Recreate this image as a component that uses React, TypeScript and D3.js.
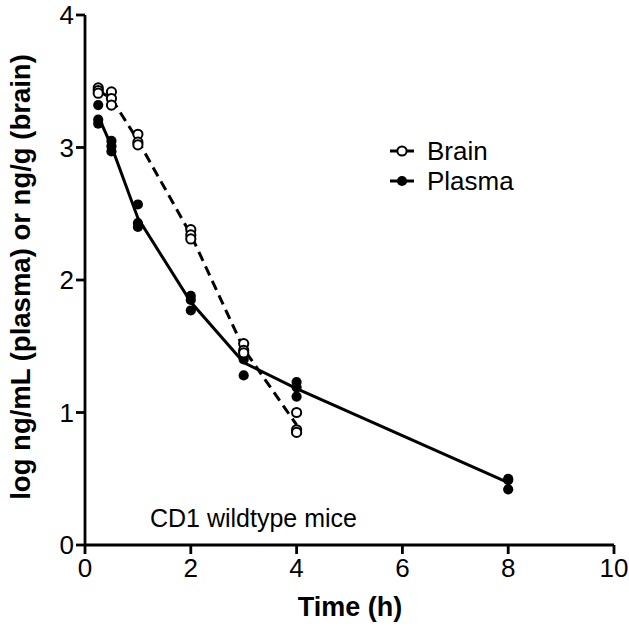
import React from "react";
import * as d3 from "d3";

const brainTimes = [0.25, 0.5, 1, 2, 3, 4];
const brainValues = [
  [3.45, 3.43, 3.41],
  [3.42, 3.37, 3.32],
  [3.1, 3.04, 3.02],
  [2.38, 2.34, 2.31],
  [1.52, 1.47, 1.45],
  [1.0, 0.87, 0.85],
];
const plasmaTimes = [0.25, 0.5, 1, 2, 3, 4, 8];
const plasmaValues = [
  [3.32, 3.21, 3.18],
  [3.05, 3.01, 2.97],
  [2.57, 2.43, 2.4],
  [1.88, 1.85, 1.77],
  [1.45, 1.4, 1.28],
  [1.23, 1.19, 1.12],
  [0.5, 0.49, 0.42],
];
const xTicks = [0, 2, 4, 6, 8, 10];
const yTicks = [0, 1, 2, 3, 4];

const W = 629;
const H = 626;
const FONT = "'Liberation Sans', Arial, Helvetica, sans-serif";

export default function App() {
  const x = d3.scaleLinear().domain([0, 10]).range([85, 614]);
  const y = d3.scaleLinear().domain([0, 4]).range([545, 15]);
  const line = d3
    .line<[number, number]>()
    .x((d) => x(d[0]))
    .y((d) => y(d[1]));
  const brainMean: [number, number][] = brainTimes.map((t, i) => [t, d3.mean(brainValues[i]) as number]);
  const plasmaMean: [number, number][] = plasmaTimes.map((t, i) => [t, d3.mean(plasmaValues[i]) as number]);
  const r = 4.6;

  return (
    <svg
      width={W}
      height={H}
      style={{ position: "absolute", left: 0, top: 0, background: "#fff" }}
      fontFamily={FONT}
    >
      {/* axes */}
      <line x1={x(0)} x2={x(10)} y1={y(0)} y2={y(0)} stroke="#000" strokeWidth={2.8} />
      <line x1={x(0)} x2={x(0)} y1={y(0)} y2={y(4)} stroke="#000" strokeWidth={2.8} />
      {xTicks.map((t) => (
        <g key={"x" + t}>
          <line x1={x(t)} x2={x(t)} y1={y(0)} y2={y(0) + 9} stroke="#000" strokeWidth={2.8} />
          <text x={x(t)} y={y(0) + 32} textAnchor="middle" fontSize={26}>
            {t}
          </text>
        </g>
      ))}
      {yTicks.map((t) => (
        <g key={"y" + t}>
          <line x1={x(0) - 9} x2={x(0)} y1={y(t)} y2={y(t)} stroke="#000" strokeWidth={2.8} />
          <text x={x(0) - 11} y={y(t) + 9} textAnchor="end" fontSize={26}>
            {t}
          </text>
        </g>
      ))}
      <text x={350} y={616} textAnchor="middle" fontSize={27} fontWeight="bold">
        Time (h)
      </text>
      <text
        transform={`translate(30, ${277}) rotate(-90)`}
        textAnchor="middle"
        fontSize={27.5}
        fontWeight="bold"
      >
        log ng/mL (plasma) or ng/g (brain)
      </text>
      <text x={150} y={527} fontSize={25}>
        CD1 wildtype mice
      </text>

      {/* lines */}
      <path d={line(brainMean) || ""} fill="none" stroke="#000" strokeWidth={3} strokeDasharray="10,6" />
      <path d={line(plasmaMean) || ""} fill="none" stroke="#000" strokeWidth={3} />

      {/* points */}
      {plasmaTimes.map((t, i) =>
        plasmaValues[i].map((v, j) => (
          <circle key={`p${i}-${j}`} cx={x(t)} cy={y(v)} r={r + 0.5} fill="#000" />
        ))
      )}
      {brainTimes.map((t, i) =>
        brainValues[i].map((v, j) => (
          <circle key={`b${i}-${j}`} cx={x(t)} cy={y(v)} r={r} fill="#fff" stroke="#000" strokeWidth={2} />
        ))
      )}

      {/* legend */}
      <g>
        <line x1={390} x2={414} y1={151} y2={151} stroke="#000" strokeWidth={3} />
        <circle cx={402} cy={151} r={r} fill="#fff" stroke="#000" strokeWidth={2} />
        <text x={427} y={160} fontSize={26}>
          Brain
        </text>
        <line x1={390} x2={414} y1={181} y2={181} stroke="#000" strokeWidth={3} />
        <circle cx={402} cy={181} r={r + 0.5} fill="#000" />
        <text x={427} y={190} fontSize={26}>
          Plasma
        </text>
      </g>
    </svg>
  );
}
